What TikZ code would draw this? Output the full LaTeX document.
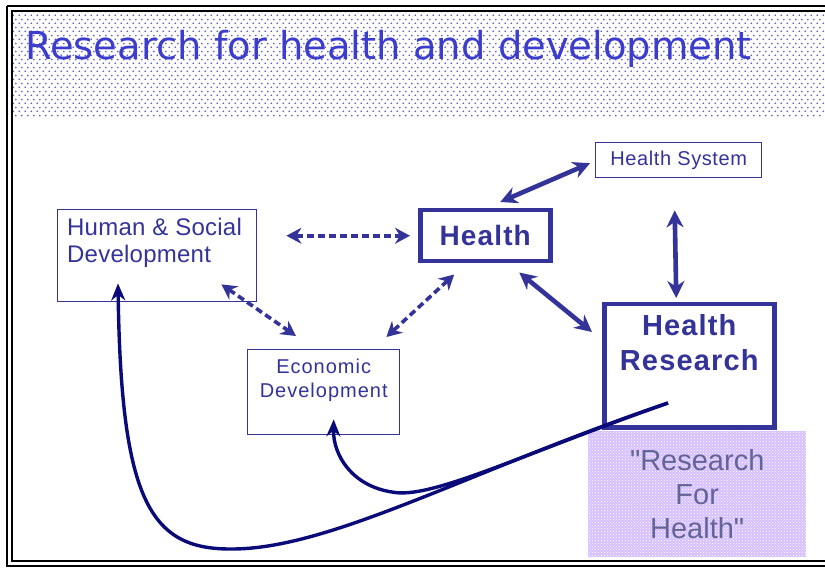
\documentclass[tikz,border=0pt]{standalone}
\usepackage{fontspec}
\setmainfont{Liberation Sans}
\newfontfamily\titlefont{DejaVu Sans}
\newfontfamily\quotefont{Liberation Sans}
\usetikzlibrary{arrows.meta,patterns}
\definecolor{boxblue}{RGB}{51,51,153}
\definecolor{curveblue}{RGB}{10,10,120}
\definecolor{titleblue}{RGB}{60,60,205}
\definecolor{dotblue}{RGB}{80,80,195}
\definecolor{lavender}{RGB}{214,192,255}
\definecolor{rfhtext}{RGB}{100,100,150}
\pgfdeclarepatternformonly{titledots}{\pgfpointorigin}{\pgfpoint{6pt}{8pt}}{\pgfpoint{6pt}{8pt}}{
	\pgfpathcircle{\pgfpoint{1.5pt}{2pt}}{1pt}
	\pgfpathcircle{\pgfpoint{4.5pt}{6pt}}{1pt}
	\pgfusepath{fill}
}
\begin{document}
\begin{tikzpicture}[x=1pt,y=-1pt,
	thinbox/.style={draw=boxblue,line width=1.4pt,inner sep=0pt,anchor=north west},
	thickbox/.style={draw=boxblue,line width=4.5pt,inner sep=0pt,anchor=north west},
	boxtext/.style={text=boxblue,inner sep=0pt},
	dasharrow/.style={boxblue,line width=3.6pt,dash pattern=on 7pt off 4pt,{Stealth[length=15pt,width=16pt]}-{Stealth[length=15pt,width=16pt]}},
	solidarrow/.style={boxblue,line width=4.6pt,{Stealth[length=17pt,width=17pt]}-{Stealth[length=17pt,width=17pt]}},
	feedback/.style={curveblue,line width=3.4pt,-{Stealth[length=17pt,width=14pt]}}]
	\useasboundingbox (0,0) rectangle (825,569);
	\fill[white] (0,0) rectangle (825,569);
	\path[pattern=titledots,pattern color=dotblue] (12,13) rectangle (825,118);
	\draw[line width=2.5pt] (7,6) -- (830,6);
	\draw[line width=2.5pt] (7,6) -- (7,566) -- (830,566);
	\draw[line width=1.2pt] (830,11) -- (12,11) -- (12,561) -- (830,561);
	\node[anchor=base west,inner sep=0pt,text=titleblue,font=\titlefont\fontsize{38.5}{40}\selectfont] (title) at (25,60) {Research for health and development};

	\node[thinbox,minimum width=199pt,minimum height=92pt,
		label={[boxtext,anchor=north west,align=left,font=\fontsize{24}{27}\selectfont\addfontfeature{LetterSpace=1},xshift=10pt,yshift=-9pt]north west:Human \& Social\\Development}] (hsd) at (57,209) {};
	\node[thinbox,minimum width=152pt,minimum height=85pt,
		label={[boxtext,anchor=north,align=center,font=\fontsize{20}{24}\selectfont\addfontfeature{LetterSpace=5},yshift=-10pt]north:Economic\\Development}] (econ) at (247,349) {};
	\node[thickbox,minimum width=130pt,minimum height=51pt,boxtext,font=\bfseries\fontsize{28}{30}\selectfont\addfontfeature{LetterSpace=4}] (health) at (418,208) {Health};
	\node[thinbox,minimum width=166pt,minimum height=35pt,boxtext,font=\fontsize{20}{22}\selectfont\addfontfeature{LetterSpace=3}] (hsys) at (595,142) {Health System};
	\node[thickbox,minimum width=170pt,minimum height=123pt,
		label={[boxtext,anchor=north,align=center,font=\bfseries\fontsize{29}{35}\selectfont\addfontfeature{LetterSpace=4},yshift=-12pt]north:Health\\Research}] (hres) at (602,302) {};
	\node[anchor=north west,inner sep=0pt,minimum width=218pt,minimum height=126pt,
		preaction={fill=lavender},pattern=crosshatch dots,pattern color=white,
		align=center,text=rfhtext,font=\quotefont\fontsize{29}{34}\selectfont] (rfh) at (588,431) {"Research\\For\\Health"};

	\draw[dasharrow] ([xshift=29pt]hsd.east |- health.west) -- ([xshift=-8pt]health.west);
	\draw[dasharrow] ([xshift=-36pt,yshift=18pt]hsd.south east) -- ([xshift=49pt,yshift=13pt]econ.north west);
	\draw[dasharrow] ([xshift=-31pt,yshift=-11pt]health.south) -- ([xshift=-14pt,yshift=12pt]econ.north east);
	\draw[solidarrow] ([xshift=15pt,yshift=6pt]health.north) -- ([xshift=-5pt,yshift=-3pt]hsys.west);
	\draw[solidarrow] ([xshift=-4pt,yshift=-32pt]hsys.south) -- ([xshift=-13pt,yshift=4pt]hres.north);
	\draw[solidarrow] ([xshift=34pt,yshift=-9pt]health.south) -- ([xshift=-10pt,yshift=-30pt]hres.north west);

	\coordinate (src) at (668,403);
	\draw[feedback] (src) .. controls (520,455) and (430,500) .. (392,492)
		.. controls (352,486) and (333,455) .. ([xshift=10pt,yshift=16pt]econ.south);
	\draw[feedback] (src) .. controls (470,470) and (330,550) .. (230,549)
		.. controls (150,549) and (121,500) .. ([xshift=61pt,yshift=19pt]hsd.south west);
\end{tikzpicture}
\end{document}
